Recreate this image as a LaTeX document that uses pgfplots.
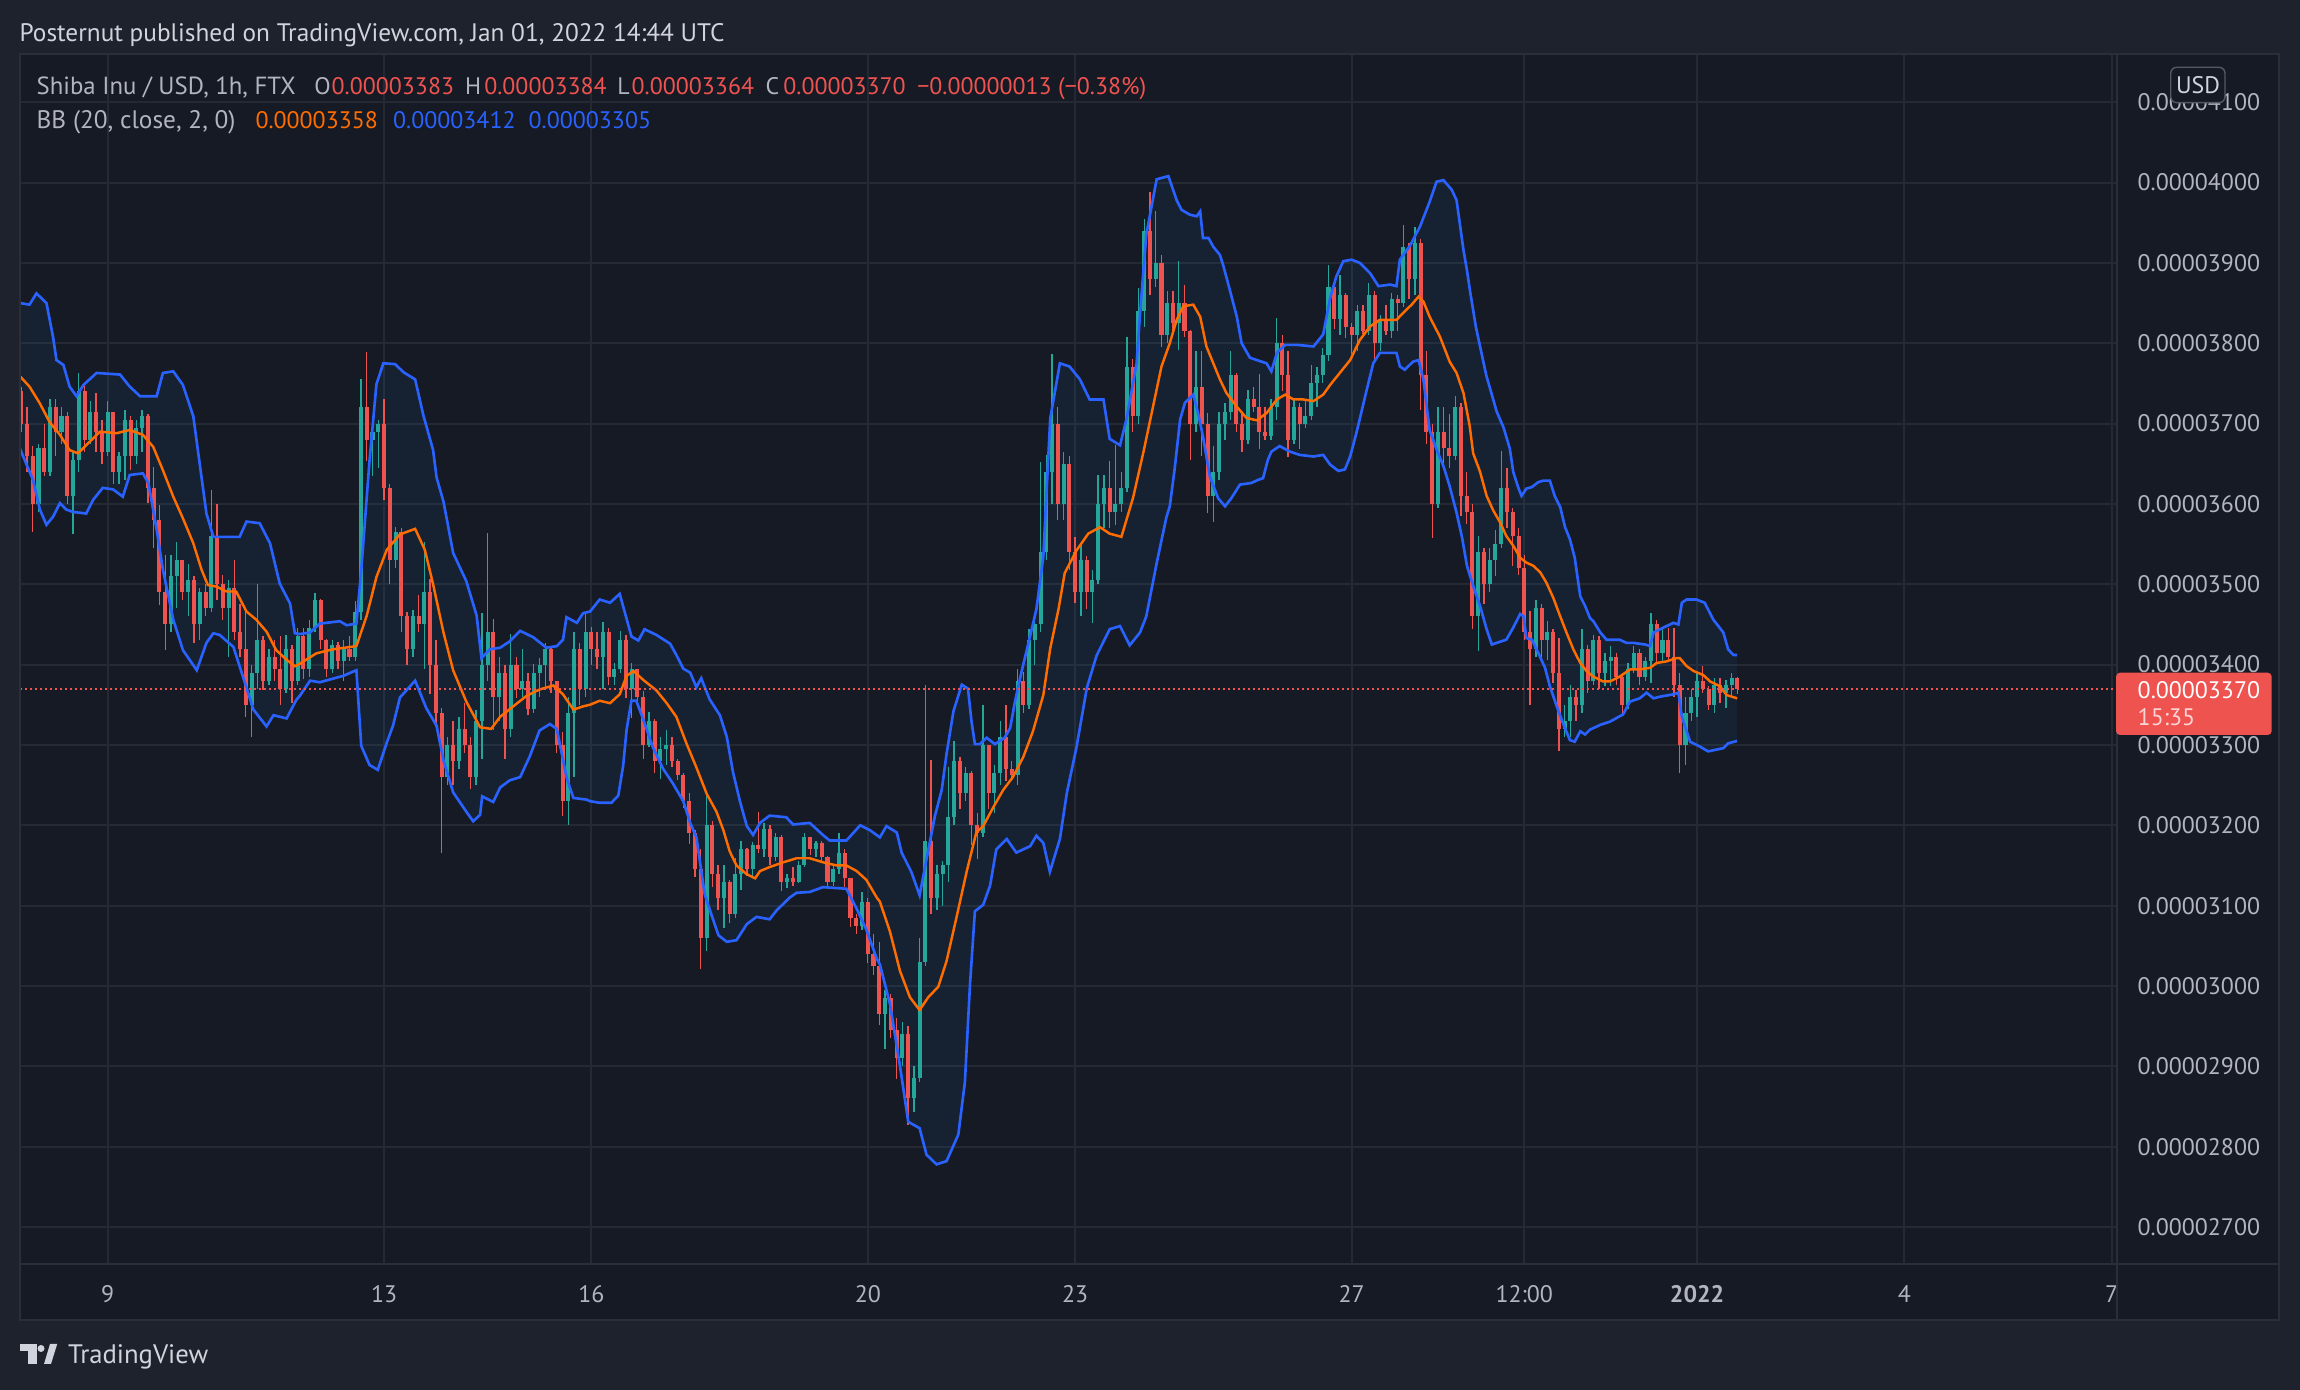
\documentclass[border=0pt]{standalone}
\usepackage{fontspec}
\setmainfont{PT Sans}
\usepackage{pgfplots}
\usepackage{pgfplotstable}
\pgfplotsset{compat=1.18}
\usepgfplotslibrary{fillbetween}
\definecolor{outerbg}{HTML}{1E222D}
\definecolor{chartbg}{HTML}{161A25}
\definecolor{gridc}{HTML}{252934}
\definecolor{framec}{HTML}{2A2E39}
\definecolor{txt}{HTML}{B2B5BE}
\definecolor{txtl}{HTML}{D1D4DC}
\definecolor{up}{HTML}{26A69A}
\definecolor{dn}{HTML}{EF5350}
\definecolor{bbblue}{HTML}{2962FF}
\definecolor{bborange}{HTML}{FF6D00}
\definecolor{bbfill}{RGB}{33,150,243}
\newcommand\tvf{\fontsize{6.8}{8}\selectfont}

\pgfplotstableread{
t o h l c
7.750 3740 3745 3690 3700
7.833 3700 3720 3640 3660
7.917 3660 3672 3565 3600
8.000 3600 3675 3590 3670
8.083 3670 3700 3635 3640
8.167 3640 3730 3635 3720
8.250 3720 3730 3660 3690
8.333 3690 3720 3675 3710
8.417 3710 3715 3600 3610
8.500 3610 3665 3563 3655
8.583 3655 3763 3640 3740
8.667 3740 3748 3665 3680
8.750 3680 3728 3675 3715
8.833 3715 3738 3665 3690
8.917 3690 3705 3650 3665
9.000 3665 3728 3660 3715
9.083 3715 3715 3625 3640
9.167 3640 3665 3625 3660
9.250 3660 3717 3630 3705
9.333 3705 3710 3642 3660
9.417 3660 3705 3650 3695
9.500 3695 3717 3665 3710
9.583 3710 3712 3601 3620
9.667 3620 3646 3545 3580
9.750 3580 3599 3474 3490
9.833 3490 3537 3418 3450
9.917 3450 3537 3440 3510
10.000 3510 3552 3470 3530
10.083 3530 3530 3480 3490
10.167 3490 3525 3460 3505
10.250 3505 3510 3427 3450
10.333 3450 3495 3430 3490
10.417 3490 3500 3460 3470
10.500 3470 3617 3465 3560
10.583 3560 3600 3480 3500
10.667 3500 3512 3456 3470
10.750 3470 3505 3410 3495
10.833 3495 3530 3430 3440
10.917 3440 3476 3410 3420
11.000 3420 3466 3335 3350
11.083 3350 3400 3310 3390
11.167 3390 3500 3370 3430
11.250 3430 3435 3368 3380
11.333 3380 3420 3375 3410
11.417 3410 3430 3380 3395
11.500 3395 3435 3350 3370
11.583 3370 3437 3365 3420
11.667 3420 3425 3352 3380
11.750 3380 3446 3375 3435
11.833 3435 3445 3382 3395
11.917 3395 3455 3385 3445
12.000 3445 3489 3440 3480
12.083 3480 3482 3420 3430
12.167 3430 3432 3384 3395
12.250 3395 3430 3390 3425
12.333 3425 3428 3395 3405
12.417 3405 3430 3380 3420
12.500 3420 3436 3405 3410
12.583 3410 3479 3405 3465
12.667 3465 3755 3455 3720
12.750 3720 3789 3654 3680
12.833 3680 3707 3635 3690
12.917 3690 3705 3645 3700
13.000 3700 3731 3605 3620
13.083 3620 3625 3500 3530
13.167 3530 3571 3520 3565
13.250 3565 3570 3440 3460
13.333 3460 3466 3400 3420
13.417 3420 3468 3410 3460
13.500 3460 3487 3440 3450
13.583 3450 3553 3395 3490
13.667 3490 3506 3363 3400
13.750 3400 3430 3322 3340
13.833 3340 3346 3166 3260
13.917 3260 3310 3250 3300
14.000 3300 3330 3250 3280
14.083 3280 3335 3270 3320
14.167 3320 3352 3290 3300
14.250 3300 3310 3245 3260
14.333 3260 3343 3250 3330
14.417 3330 3464 3282 3400
14.500 3400 3564 3380 3440
14.583 3440 3457 3318 3360
14.667 3360 3410 3330 3390
14.750 3390 3400 3282 3320
14.833 3320 3438 3310 3400
14.917 3400 3410 3358 3370
15.000 3370 3420 3360 3380
15.083 3380 3389 3337 3345
15.167 3345 3401 3340 3390
15.250 3390 3408 3360 3400
15.333 3400 3427 3370 3420
15.417 3420 3423 3365 3380
15.500 3380 3380 3290 3300
15.583 3300 3316 3211 3230
15.667 3230 3360 3200 3340
15.750 3340 3440 3260 3420
15.833 3420 3427 3350 3370
15.917 3370 3464 3360 3440
16.000 3440 3447 3400 3420
16.083 3420 3440 3395 3410
16.167 3410 3453 3370 3440
16.250 3440 3445 3375 3385
16.333 3385 3402 3375 3395
16.417 3395 3442 3390 3430
16.500 3430 3437 3359 3370
16.583 3370 3402 3334 3395
16.667 3395 3395 3350 3360
16.750 3360 3367 3283 3300
16.833 3300 3341 3298 3330
16.917 3330 3332 3265 3280
17.000 3280 3310 3257 3295
17.083 3295 3318 3275 3300
17.167 3300 3310 3273 3280
17.250 3280 3283 3256 3262
17.333 3262 3265 3221 3230
17.417 3230 3240 3177 3190
17.500 3190 3194 3136 3145
17.583 3145 3170 3021 3060
17.667 3060 3236 3043 3200
17.750 3200 3205 3123 3140
17.833 3140 3150 3094 3110
17.917 3110 3150 3072 3130
18.000 3130 3132 3079 3090
18.083 3090 3159 3085 3140
18.167 3140 3181 3120 3170
18.250 3170 3172 3137 3145
18.333 3145 3179 3137 3175
18.417 3175 3217 3165 3170
18.500 3170 3203 3160 3195
18.583 3195 3200 3150 3160
18.667 3160 3190 3155 3185
18.750 3185 3188 3118 3130
18.833 3130 3140 3122 3135
18.917 3135 3148 3124 3130
19.000 3130 3155 3128 3150
19.083 3150 3190 3148 3185
19.167 3185 3186 3163 3170
19.250 3170 3181 3160 3178
19.333 3178 3180 3154 3160
19.417 3160 3162 3123 3130
19.500 3130 3150 3125 3145
19.583 3145 3190 3140 3165
19.667 3165 3170 3123 3135
19.750 3135 3135 3074 3085
19.833 3085 3090 3065 3075
19.917 3075 3117 3070 3105
20.000 3105 3110 3029 3040
20.083 3040 3065 3014 3025
20.167 3025 3055 2952 2965
20.250 2965 2995 2921 2985
20.333 2985 2990 2935 2945
20.417 2945 2960 2884 2910
20.500 2910 2955 2900 2940
20.583 2940 2950 2827 2860
20.667 2860 2900 2843 2885
20.750 2885 3060 2880 3030
20.833 3030 3375 3025 3180
20.917 3180 3281 3090 3110
21.000 3110 3150 3095 3140
21.083 3140 3155 3100 3150
21.167 3150 3272 3130 3210
21.250 3210 3305 3200 3280
21.333 3280 3285 3220 3240
21.417 3240 3273 3230 3265
21.500 3265 3268 3175 3200
21.583 3200 3215 3158 3190
21.667 3190 3350 3185 3300
21.750 3300 3300 3220 3240
21.833 3240 3275 3215 3265
21.917 3265 3330 3250 3310
22.000 3310 3350 3255 3270
22.083 3270 3280 3255 3262
22.167 3262 3395 3250 3380
22.250 3380 3391 3340 3350
22.333 3350 3444 3345 3430
22.417 3430 3461 3400 3450
22.500 3450 3652 3440 3540
22.583 3540 3661 3530 3640
22.667 3640 3787 3600 3700
22.750 3700 3720 3580 3600
22.833 3600 3665 3580 3650
22.917 3650 3660 3518 3540
23.000 3540 3559 3477 3490
23.083 3490 3550 3460 3530
23.167 3530 3535 3469 3490
23.250 3490 3518 3452 3505
23.333 3505 3636 3500 3600
23.417 3600 3636 3570 3620
23.500 3620 3653 3570 3590
23.583 3590 3673 3574 3600
23.667 3600 3640 3590 3620
23.750 3620 3808 3615 3770
23.833 3770 3780 3690 3710
23.917 3710 3869 3700 3840
24.000 3840 3955 3820 3940
24.083 3940 3988 3860 3880
24.167 3880 3965 3870 3900
24.250 3900 3910 3795 3810
24.333 3810 3865 3800 3850
24.417 3850 3865 3815 3825
24.500 3825 3902 3792 3850
24.583 3850 3873 3808 3815
24.667 3815 3817 3655 3700
24.750 3700 3790 3690 3745
24.833 3745 3790 3660 3700
24.917 3700 3713 3589 3610
25.000 3610 3672 3578 3640
25.083 3640 3715 3630 3700
25.167 3700 3725 3680 3715
25.250 3715 3790 3705 3760
25.333 3760 3763 3690 3700
25.417 3700 3715 3664 3680
25.500 3680 3742 3675 3730
25.583 3730 3745 3715 3720
25.667 3720 3762 3668 3690
25.750 3690 3720 3680 3685
25.833 3685 3730 3680 3720
25.917 3720 3831 3705 3800
26.000 3800 3810 3740 3760
26.083 3760 3790 3659 3680
26.167 3680 3730 3675 3720
26.250 3720 3725 3668 3700
26.333 3700 3730 3695 3710
26.417 3710 3773 3705 3750
26.500 3750 3770 3720 3760
26.583 3760 3794 3750 3785
26.667 3785 3897 3778 3870
26.750 3870 3873 3818 3830
26.833 3830 3885 3810 3860
26.917 3860 3862 3807 3820
27.000 3820 3825 3787 3810
27.083 3810 3847 3790 3840
27.167 3840 3848 3811 3815
27.250 3815 3875 3810 3860
27.333 3860 3865 3778 3800
27.417 3800 3835 3790 3830
27.500 3830 3848 3810 3815
27.583 3815 3862 3807 3855
27.667 3855 3860 3815 3850
27.750 3850 3947 3845 3920
27.833 3920 3925 3855 3880
27.917 3880 3945 3860 3925
28.000 3925 3930 3717 3760
28.083 3760 3790 3675 3690
28.167 3690 3700 3557 3600
28.250 3600 3720 3595 3690
28.333 3690 3720 3648 3670
28.417 3670 3712 3645 3660
28.500 3660 3734 3655 3720
28.583 3720 3725 3585 3610
28.667 3610 3640 3575 3590
28.750 3590 3600 3444 3460
28.833 3460 3560 3417 3540
28.917 3540 3545 3475 3500
29.000 3500 3545 3490 3530
29.083 3530 3567 3510 3550
29.167 3550 3666 3545 3620
29.250 3620 3645 3570 3590
29.333 3590 3595 3523 3560
29.417 3560 3570 3512 3520
29.500 3520 3537 3431 3440
29.583 3440 3467 3350 3420
29.667 3420 3481 3410 3470
29.750 3470 3475 3410 3430
29.833 3430 3454 3406 3440
29.917 3440 3444 3377 3390
30.000 3390 3433 3292 3320
30.083 3320 3350 3310 3330
30.167 3330 3375 3310 3360
30.250 3360 3369 3330 3350
30.333 3350 3444 3340 3420
30.417 3420 3425 3365 3380
30.500 3380 3437 3375 3430
30.583 3430 3435 3370 3390
30.667 3390 3415 3373 3405
30.750 3405 3423 3373 3410
30.833 3410 3415 3375 3385
30.917 3385 3390 3340 3350
31.000 3350 3402 3345 3395
31.083 3395 3423 3390 3415
31.167 3415 3419 3375 3385
31.250 3385 3410 3380 3405
31.333 3405 3464 3377 3450
31.417 3450 3456 3402 3415
31.500 3415 3444 3405 3430
31.583 3430 3446 3406 3410
31.667 3410 3446 3360 3375
31.750 3375 3390 3265 3300
31.833 3300 3360 3275 3340
31.917 3340 3370 3330 3360
32.000 3360 3390 3335 3380
32.083 3380 3398 3365 3370
32.167 3370 3373 3344 3350
32.250 3350 3383 3340 3375
32.333 3375 3383 3352 3365
32.417 3365 3381 3346 3375
32.500 3375 3390 3360 3383
32.583 3383 3384 3364 3370
}\candles

\pgfplotstableread{
t p
7.73 3850
7.87 3848
7.97 3862
8.115 3850
8.21 3808
8.26 3779
8.36 3773
8.45 3746
8.55 3734
8.65 3748
8.84 3763
9.18 3761
9.32 3746
9.47 3734
9.71 3734
9.80 3763
9.95 3765
10.09 3748
10.24 3709
10.43 3588
10.53 3559
10.91 3559
11.01 3578
11.20 3576
11.35 3551
11.49 3501
11.64 3476
11.71 3439
11.78 3438
11.93 3440
12.07 3451
12.36 3454
12.46 3449
12.60 3451
12.67 3517
12.79 3654
12.89 3749
12.99 3775
13.16 3774
13.28 3764
13.45 3755
13.57 3710
13.71 3667
13.76 3633
13.86 3603
14.00 3539
14.19 3504
14.34 3461
14.41 3408
14.53 3419
14.68 3421
14.82 3429
14.97 3442
15.16 3434
15.35 3421
15.50 3423
15.59 3431
15.64 3459
15.79 3452
15.88 3464
15.98 3466
16.12 3481
16.27 3477
16.41 3488
16.51 3457
16.58 3435
16.68 3430
16.77 3444
16.94 3437
17.14 3426
17.23 3412
17.33 3395
17.43 3390
17.52 3372
17.59 3383
17.71 3357
17.86 3337
17.96 3310
18.05 3266
18.15 3230
18.25 3199
18.34 3188
18.44 3203
18.58 3212
18.82 3210
18.92 3201
19.16 3203
19.35 3188
19.45 3181
19.69 3181
19.89 3200
20.03 3194
20.175 3185
20.27 3199
20.42 3191
20.49 3166
20.63 3142
20.75 3113
20.85 3158
20.97 3211
21.07 3244
21.14 3289
21.24 3342
21.36 3375
21.45 3370
21.50 3330
21.55 3301
21.62 3301
21.72 3309
21.84 3301
21.98 3309
22.06 3321
22.13 3354
22.225 3391
22.35 3436
22.44 3469
22.54 3534
22.64 3706
22.78 3775
22.92 3771
23.07 3755
23.21 3730
23.41 3730
23.50 3681
23.65 3673
23.745 3706
23.89 3775
23.94 3837
24.03 3935
24.18 4004
24.35 4008
24.47 3978
24.54 3966
24.66 3960
24.76 3958
24.81 3964
24.85 3931
24.93 3931
25.00 3920
25.095 3910
25.14 3898
25.24 3866
25.34 3833
25.41 3800
25.53 3782
25.63 3779
25.77 3775
25.84 3765
25.92 3788
26.04 3798
26.205 3798
26.45 3796
26.59 3811
26.69 3856
26.78 3883
26.88 3902
27.00 3904
27.12 3900
27.27 3887
27.39 3871
27.56 3873
27.65 3871
27.70 3904
27.85 3922
27.99 3945
28.13 3976
28.23 4001
28.33 4003
28.45 3991
28.52 3978
28.62 3916
28.67 3891
28.713 3866
28.80 3820
28.95 3760
29.10 3715
29.20 3695
29.29 3669
29.34 3640
29.41 3621
29.46 3610
29.53 3619
29.61 3621
29.70 3627
29.775 3629
29.87 3629
29.94 3610
30.02 3596
30.09 3571
30.16 3556
30.23 3533
30.31 3485
30.38 3473
30.45 3458
30.50 3454
30.60 3440
30.69 3431
30.88 3431
30.98 3427
31.08 3427
31.25 3425
31.32 3423
31.37 3440
31.51 3446
31.66 3452
31.73 3450
31.78 3477
31.85 3481
31.99 3481
32.11 3477
32.235 3456
32.38 3440
32.45 3419
32.525 3412
32.58 3412
}\bbup

\pgfplotstableread{
t p
7.73 3759
7.87 3746
8.02 3725
8.16 3702
8.31 3686
8.45 3667
8.57 3663
8.69 3673
8.89 3690
9.13 3688
9.32 3692
9.51 3686
9.66 3671
9.80 3642
9.95 3609
10.09 3582
10.24 3551
10.36 3518
10.45 3499
10.58 3497
10.72 3491
10.86 3491
11.01 3466
11.15 3456
11.30 3441
11.44 3418
11.59 3406
11.71 3398
11.78 3401
12.02 3414
12.26 3419
12.60 3423
12.75 3461
12.89 3509
13.04 3543
13.23 3562
13.45 3569
13.59 3543
13.71 3500
13.86 3440
14.00 3393
14.19 3354
14.39 3322
14.55 3320
14.68 3335
14.87 3348
15.06 3361
15.25 3369
15.45 3374
15.59 3363
15.74 3344
15.88 3348
15.98 3350
16.12 3355
16.27 3352
16.41 3363
16.51 3386
16.61 3392
16.75 3381
16.94 3368
17.09 3352
17.23 3335
17.38 3301
17.52 3272
17.67 3239
17.81 3217
17.91 3194
18.00 3168
18.10 3150
18.25 3139
18.37 3134
18.44 3143
18.58 3148
18.78 3154
18.97 3159
19.16 3159
19.35 3154
19.55 3150
19.69 3150
19.84 3143
19.98 3132
20.13 3110
20.175 3105
20.32 3068
20.465 3019
20.61 2986
20.75 2970
20.875 2986
21.02 2999
21.14 3031
21.28 3084
21.43 3142
21.57 3191
21.67 3199
21.82 3223
21.96 3244
22.10 3260
22.25 3285
22.39 3317
22.54 3362
22.64 3420
22.76 3469
22.85 3514
23.02 3542
23.19 3563
23.36 3571
23.50 3563
23.67 3559
23.84 3608
23.99 3665
24.13 3722
24.25 3771
24.37 3800
24.47 3829
24.565 3846
24.71 3848
24.81 3833
24.90 3796
25.00 3775
25.095 3755
25.19 3738
25.34 3721
25.48 3707
25.63 3704
25.77 3713
25.92 3730
26.04 3736
26.16 3730
26.30 3730
26.45 3728
26.59 3736
26.69 3748
26.83 3763
26.98 3779
27.12 3804
27.27 3821
27.41 3829
27.56 3829
27.65 3829
27.75 3838
27.87 3848
27.97 3858
28.04 3852
28.13 3833
28.28 3808
28.42 3777
28.52 3763
28.62 3738
28.71 3697
28.76 3663
28.86 3640
28.955 3610
29.05 3592
29.15 3577
29.24 3560
29.34 3548
29.44 3533
29.53 3527
29.63 3523
29.73 3515
29.82 3502
29.92 3483
30.02 3460
30.11 3440
30.21 3419
30.31 3402
30.40 3392
30.50 3385
30.64 3379
30.74 3379
30.88 3385
31.03 3394
31.17 3394
31.32 3396
31.415 3402
31.56 3404
31.70 3408
31.75 3408
31.85 3398
31.95 3392
32.09 3387
32.19 3379
32.33 3373
32.43 3362
32.58 3358
}\bbmid

\pgfplotstableread{
t p
7.73 3669
7.92 3630
8.02 3593
8.115 3574
8.21 3584
8.31 3601
8.40 3593
8.50 3590
8.69 3588
8.79 3605
8.93 3620
9.08 3618
9.22 3609
9.32 3636
9.51 3638
9.59 3626
9.71 3568
9.80 3518
9.95 3456
10.09 3418
10.29 3393
10.43 3427
10.53 3439
10.62 3437
10.82 3422
10.91 3398
11.11 3344
11.30 3323
11.40 3337
11.59 3333
11.73 3356
11.78 3361
11.93 3380
12.07 3378
12.41 3386
12.60 3393
12.67 3299
12.79 3275
12.91 3269
13.04 3303
13.13 3324
13.23 3359
13.45 3380
13.61 3346
13.76 3324
13.86 3281
14.00 3241
14.19 3217
14.29 3205
14.39 3213
14.42 3236
14.58 3229
14.68 3247
14.82 3256
14.97 3260
15.11 3286
15.25 3318
15.40 3326
15.50 3320
15.64 3260
15.74 3234
15.93 3232
15.98 3230
16.12 3228
16.29 3228
16.39 3237
16.46 3274
16.51 3319
16.58 3355
16.65 3355
16.75 3332
16.89 3297
17.04 3270
17.18 3252
17.33 3230
17.43 3203
17.52 3185
17.64 3114
17.76 3083
17.84 3063
17.96 3055
18.10 3057
18.25 3077
18.39 3086
18.58 3083
18.68 3094
18.87 3110
18.97 3116
19.16 3117
19.35 3123
19.69 3121
19.84 3096
19.98 3070
20.13 3034
20.175 3027
20.32 2978
20.465 2901
20.585 2831
20.75 2823
20.85 2790
20.995 2778
21.14 2782
21.31 2815
21.405 2880
21.48 3003
21.55 3093
21.67 3101
21.77 3125
21.86 3170
22.01 3183
22.15 3166
22.35 3174
22.44 3187
22.54 3178
22.635 3142
22.78 3183
22.88 3240
23.02 3297
23.17 3371
23.31 3411
23.50 3444
23.65 3448
23.79 3424
23.94 3440
24.03 3460
24.18 3526
24.32 3583
24.37 3597
24.44 3643
24.52 3705
24.59 3726
24.71 3736
24.78 3713
24.85 3684
24.95 3634
25.07 3607
25.17 3597
25.26 3607
25.385 3624
25.55 3626
25.65 3630
25.72 3632
25.79 3655
25.84 3665
25.96 3672
26.11 3665
26.25 3661
26.45 3659
26.59 3661
26.69 3649
26.81 3641
26.905 3643
26.98 3659
27.07 3688
27.22 3742
27.315 3775
27.41 3788
27.65 3788
27.70 3771
27.77 3767
27.89 3777
27.97 3779
28.04 3755
28.13 3692
28.23 3668
28.33 3647
28.42 3622
28.52 3589
28.60 3558
28.67 3523
28.76 3498
28.86 3473
28.955 3444
29.03 3425
29.10 3427
29.24 3431
29.34 3446
29.44 3463
29.49 3460
29.53 3433
29.61 3431
29.70 3415
29.80 3396
29.87 3373
29.97 3348
30.06 3327
30.16 3306
30.23 3304
30.31 3317
30.38 3313
30.45 3319
30.60 3325
30.74 3329
30.93 3338
31.03 3354
31.17 3358
31.27 3365
31.37 3358
31.46 3360
31.66 3363
31.73 3365
31.78 3335
31.90 3304
32.04 3298
32.16 3292
32.38 3296
32.45 3302
32.58 3305
}\bblow

\begin{document}
\begin{tikzpicture}
\begin{axis}[
  set layers,
  clip=false,
  at={(0.198cm,1.26cm)}, anchor=south west,
  width=20.972cm, height=12.10cm, scale only axis,
  xmin=7.7294, xmax=38.077, ymin=2654, ymax=4160,
  axis line style={draw=none},
  major tick length=0pt, minor tick length=0pt,
  xtick={9,13,16,20,23,27,29.5,32,35,38},
  xticklabels={9,13,16,20,23,27,12:00,\textbf{2022},4,7},
  ytick={2700,2800,...,4100},
  yticklabels={0.00002700,0.00002800,0.00002900,0.00003000,0.00003100,0.00003200,0.00003300,0.00003400,0.00003500,0.00003600,0.00003700,0.00003800,0.00003900,0.00004000,0.00004100},
  yticklabel pos=right,
  xmajorgrids=true, ymajorgrids=true,
  grid style={color=gridc, line width=0.57pt},
  major grid style={color=gridc, line width=0.57pt},
  xticklabel style={anchor=center, inner sep=0pt, yshift=-2.98mm, font=\tvf, text=txt},
  yticklabel style={anchor=west, inner sep=0pt, xshift=2mm, font=\tvf, text=txt},
]
\begin{pgfonlayer}{axis background}
\fill[outerbg] (rel axis cs:-0.00944,-0.10413) rectangle (rel axis cs:1.08726,1.04463);
\fill[chartbg] (rel axis cs:0,-0.04628) rectangle (rel axis cs:1.07725,1);
\end{pgfonlayer}

\addplot[draw=none, name path=U, forget plot] table[x=t,y=p] {\bbup};
\addplot[draw=none, name path=L, forget plot] table[x=t,y=p] {\bblow};
\addplot[fill=bbfill, fill opacity=0.06, draw=none] fill between[of=U and L];

% up candles: wicks then bodies
\addplot[draw=none, mark=none, forget plot,
  restrict expr to domain={\thisrow{c}-\thisrow{o}}{0:100000},
  error bars/.cd, y dir=both, y explicit, error mark=none,
  error bar style={draw=up, line width=0.38pt}]
  table[x=t, y expr={0.5*(\thisrow{h}+\thisrow{l})}, y error expr={0.5*(\thisrow{h}-\thisrow{l})}] {\candles};
\addplot[draw=none, mark=none, forget plot,
  restrict expr to domain={\thisrow{c}-\thisrow{o}}{0:100000},
  error bars/.cd, y dir=both, y explicit, error mark=none,
  error bar style={draw=up, line width=1.15pt}]
  table[x=t, y expr={0.5*(\thisrow{o}+\thisrow{c})}, y error expr={max(0.5*abs(\thisrow{c}-\thisrow{o}),1.5)}] {\candles};
% down candles
\addplot[draw=none, mark=none, forget plot,
  restrict expr to domain={\thisrow{c}-\thisrow{o}}{-100000:-0.5},
  error bars/.cd, y dir=both, y explicit, error mark=none,
  error bar style={draw=dn, line width=0.38pt}]
  table[x=t, y expr={0.5*(\thisrow{h}+\thisrow{l})}, y error expr={0.5*(\thisrow{h}-\thisrow{l})}] {\candles};
\addplot[draw=none, mark=none, forget plot,
  restrict expr to domain={\thisrow{c}-\thisrow{o}}{-100000:-0.5},
  error bars/.cd, y dir=both, y explicit, error mark=none,
  error bar style={draw=dn, line width=1.15pt}]
  table[x=t, y expr={0.5*(\thisrow{o}+\thisrow{c})}, y error expr={max(0.5*abs(\thisrow{c}-\thisrow{o}),1.5)}] {\candles};

\addplot[bborange, line width=0.7pt, mark=none] table[x=t,y=p] {\bbmid};
\addplot[bbblue, line width=0.75pt, mark=none] table[x=t,y=p] {\bbup};
\addplot[bbblue, line width=0.75pt, mark=none] table[x=t,y=p] {\bblow};

\addplot[dn, line width=0.57pt, dash pattern=on 0.57pt off 0.85pt, mark=none] coordinates {(7.7294,3370) (38.077,3370)};
\end{axis}

% frame
\draw[framec, line width=0.6pt] (0.198,0.70) rectangle (22.79,13.36);
\draw[framec, line width=0.6pt] (21.17,0.70) -- (21.17,13.36);
\draw[framec, line width=0.6pt] (0.198,1.26) -- (22.79,1.26);

% header
\node[anchor=base west, inner sep=0pt, text=txtl, font=\fontsize{7.2}{8.5}\selectfont] at (0.19,13.483) {Posternut published on TradingView.com, Jan 01, 2022 14:44 UTC};

% legend
\begin{scope}[every node/.style={anchor=base west, inner sep=0pt, font=\tvf}]
\node[text=txt, font=\fontsize{7.05}{8}\selectfont] at (0.36,12.95) {Shiba Inu / USD, 1h, FTX};
\node[text=txt] at (3.137,12.95) {O};
\node[text=dn] at (3.31,12.95) {0.00003383};
\node[text=txt] at (4.644,12.95) {H};
\node[text=dn] at (4.836,12.95) {0.00003384};
\node[text=txt] at (6.167,12.95) {L};
\node[text=dn] at (6.31,12.95) {0.00003364};
\node[text=txt] at (7.65,12.95) {C};
\node[text=dn] at (7.827,12.95) {0.00003370};
\node[text=dn] at (9.166,12.95) {−0.00000013 (−0.38\%)};
\node[text=txt, font=\fontsize{7.2}{8}\selectfont] at (0.36,12.617) {BB (20, close, 2, 0)};
\node[text=bborange] at (2.548,12.617) {0.00003358};
\node[text=bbblue] at (3.925,12.617) {0.00003412};
\node[text=bbblue] at (5.28,12.617) {0.00003305};
\end{scope}

% price tag
\fill[dn, rounded corners=0.4mm] (21.16,6.55) rectangle (22.717,7.173);
\node[anchor=west, inner sep=0pt, text=white, font=\tvf] at (21.37,7.00) {0.00003370};
\node[anchor=west, inner sep=0pt, text=white!75!dn, font=\tvf] at (21.37,6.727) {15:35};

% USD box
\draw[draw=framec!80!white, fill=chartbg, line width=0.4pt, rounded corners=0.6mm] (21.707,12.873) rectangle (22.25,13.227);
\node[inner sep=0pt, text=txtl, font=\tvf] at (21.98,13.05) {USD};

% TradingView logo
\fill[txtl] (0.198,0.39) rectangle (0.367,0.46);
\fill[txtl] (0.28,0.26) rectangle (0.367,0.46);
\fill[txtl] (0.41,0.415) circle (0.035);
\fill[txtl] (0.44,0.26) -- (0.51,0.26) -- (0.572,0.46) -- (0.50,0.46) -- cycle;
\node[anchor=base west, inner sep=0pt, text=txtl, font=\fontsize{7.6}{9}\selectfont] at (0.675,0.26) {TradingView};
\end{tikzpicture}
\end{document}
